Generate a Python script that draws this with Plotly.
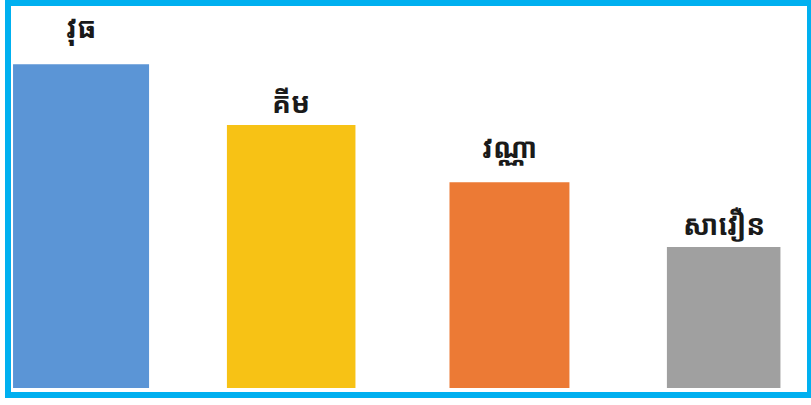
import plotly.graph_objects as go

# Data
names = ["វុធ", "គីម", "វណ្ណា", "សាវឿន"]
values = [85, 69, 54, 37]
colors = ["#5b95d6", "#f7c215", "#ec7a35", "#a0a0a0"]
bar_widths = [0.635, 0.6, 0.56, 0.53]
bar_shifts = [0.0, -0.019, 0.0, 0.0]
label_shifts = [37, 23, 35, 23]

W, H = 811, 405
ml, mr, mt, mb = 11, 4, 7, 17
font_fam = "Khmer OS, Noto Sans Khmer, Noto Sans, sans-serif"

fig = go.Figure()
fig.add_trace(go.Bar(
    x=list(range(len(names))),
    y=values,
    width=bar_widths,
    offset=[-w / 2 + s for w, s in zip(bar_widths, bar_shifts)],
    marker=dict(color=colors, line=dict(width=0)),
    hoverinfo="skip",
    cliponaxis=False,
))

for i, (n, v) in enumerate(zip(names, values)):
    fig.add_annotation(
        x=i + bar_shifts[i], y=v, text="<b>" + n + "</b>",
        showarrow=False, xanchor="center", yanchor="middle",
        yshift=label_shifts[i],
        font=dict(family=font_fam, size=28, color="#1a1a1a"),
    )

pw = W - ml - mr
ph = H - mt - mb

def px_x(p):
    return (p - ml) / pw

def px_y(p):
    return (H - mb - p) / ph

fig.add_shape(
    type="rect", xref="paper", yref="paper",
    x0=px_x(8), x1=px_x(810), y0=px_y(395), y1=px_y(3),
    line=dict(color="#00b0f0", width=6),
    fillcolor="rgba(0,0,0,0)",
)

fig.update_layout(
    width=W, height=H,
    margin=dict(l=ml, r=mr, t=mt, b=mb),
    paper_bgcolor="white", plot_bgcolor="white",
    showlegend=False,
    xaxis=dict(range=[-0.327, 3.389], visible=False, fixedrange=True),
    yaxis=dict(range=[0, 100], visible=False, fixedrange=True),
)

fig.write_html("out.html")
